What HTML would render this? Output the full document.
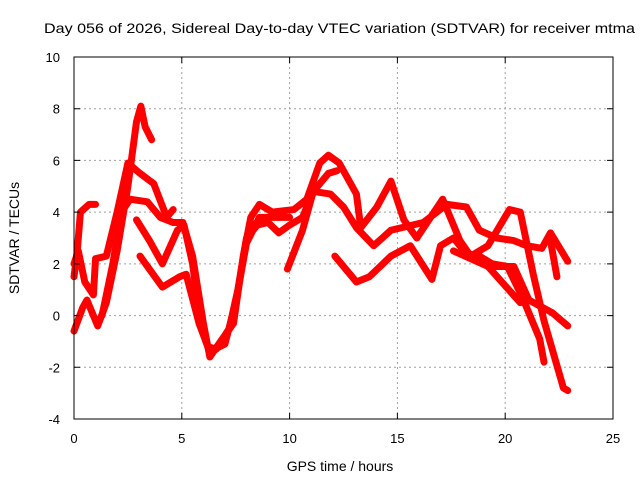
<!DOCTYPE html>
<html><head><meta charset="utf-8"><style>
body{margin:0;background:#fff;}
svg{display:block;font-family:"Liberation Sans",sans-serif;}
</style></head><body>
<svg id="chart" width="640" height="480">
<rect width="640" height="480" fill="#fff"/>
<text x="44" y="33" font-size="14" textLength="591" lengthAdjust="spacingAndGlyphs">Day 056 of 2026, Sidereal Day-to-day VTEC variation (SDTVAR) for receiver mtma</text>
<g id="grid"></g><g id="series"></g><g id="axes"></g>
<text x="340" y="471" text-anchor="middle" font-size="14">GPS time / hours</text>
<text transform="translate(19,238) rotate(-90)" text-anchor="middle" font-size="14">SDTVAR / TECUs</text>
</svg>
<script>
const xTicks=[0,5,10,15,20,25];
const yTicks=[-4,-2,0,2,4,6,8,10];
const s1=[[0,-0.6],[0.4,0.3],[0.6,0.6],[1.1,-0.4],[1.5,0.5],[2.0,2.5],[2.5,5],[2.9,7.5],[3.1,8.1],[3.3,7.3],[3.6,6.8]];
const s2=[[0,1.5],[0.15,2.5],[0.3,4],[0.7,4.3],[1.0,4.3]];
const s3=[[0,2],[0.2,2.5],[0.5,1.3],[0.9,0.8],[1.0,2.2],[1.5,2.3],[2.0,4],[2.5,5.9],[3.06,5.5],[3.7,5.1],[4.3,3.8],[4.6,4.1]];
const s4=[[1.3,0],[1.8,2],[2.2,4],[2.6,4.5],[3.4,4.4],[4.0,3.8],[4.6,3.6],[5.05,3.6],[5.5,2.3],[6.0,-0.3],[6.3,-1.6],[6.8,-1.0],[7.4,-0.3],[7.85,2.3],[8.2,3.8],[8.6,4.3],[9.2,4.0],[10.2,4.1],[10.8,4.5],[11.4,5.9],[11.8,6.2],[12.3,5.9],[13.1,4.7],[13.3,3.4],[14.05,4.2],[14.7,5.2],[15.3,3.7],[15.9,3.0],[17.1,4.5],[17.9,2.9],[18.4,2.3],[19.2,2.7],[20.2,4.1],[20.7,4.0],[21.3,1.6],[21.8,-0.2],[22.7,-2.8],[22.9,-2.9]];
const s5=[[2.9,3.7],[3.5,2.9],[4.1,2.0],[4.8,3.3],[5.1,3.5],[5.5,2.0],[5.9,-0.5],[6.2,-1.2],[6.6,-1.3],[7.2,-0.5],[7.6,1],[8.0,3.0],[8.5,3.5],[9.0,3.6],[9.5,3.2],[10.0,3.5],[10.6,3.8],[11.1,4.8],[11.9,4.7],[12.5,4.2],[13.1,3.4],[13.9,2.7],[14.7,3.3],[16.2,3.6],[17.3,4.3],[18.2,4.2],[18.8,3.3],[19.6,3.0],[20.4,2.9],[21,2.7],[21.7,2.6],[22.1,3.2],[22.9,2.1]];
const s6=[[3.06,2.3],[4.1,1.1],[4.9,1.5],[5.2,1.6],[5.8,-0.3],[6.3,-1.4],[7.0,-1.1],[7.5,0.5],[8.0,2.8],[8.6,3.8],[10.0,3.8]];
const s7=[[9.9,1.8],[10.6,3.3],[11.1,4.8],[11.8,5.5],[12.2,5.6]];
const s8=[[12.1,2.3],[13.1,1.3],[13.7,1.5],[14.7,2.3],[15.6,2.7],[16.6,1.4],[17.0,2.7],[17.6,3.0],[18.2,2.4],[18.8,2.3],[19.4,2.0],[20.1,1.9],[20.8,0.7],[21.6,-0.9],[21.8,-1.8]];
const s9=[[17.6,2.5],[19.2,1.9],[20.7,0.5]];
const s10=[[19.4,1.9],[20.4,1.9],[21.1,0.6],[22.2,0.1],[22.9,-0.4]];
const s11=[[22.1,2.9],[22.4,1.5]];
const allSeries=[s1,s2,s3,s4,s5,s6,s7,s8,s9,s10,s11];

const X0=74,X1=613,Y0=419,Y1=57;
const xs=v=>X0+(v-0)/(25-0)*(X1-X0);
const ys=v=>Y0-(v+4)/(14)*(Y0-Y1);
const NS='http://www.w3.org/2000/svg';
function mk(tag,attrs,parent){const e=document.createElementNS(NS,tag);for(const k in attrs)e.setAttribute(k,attrs[k]);parent.appendChild(e);return e;}
const grid=document.getElementById('grid'),axes=document.getElementById('axes'),ser=document.getElementById('series');
xTicks.forEach(t=>{
 const x=xs(t);
 if(t>0&&t<25){const g=mk('line',{x1:x,x2:x,y1:Y1,y2:Y0,stroke:'#a0a0a0','stroke-dasharray':'2,3','stroke-width':1},grid);
 
 }
 const tk=mk('path',{d:`M${x},${Y0}v-6M${x},${Y1}v6`,stroke:'#000'},axes);
 
 
 const l=mk('text',{x:x,y:Y0+24,'text-anchor':'middle','font-size':13},axes);l.textContent=t;
 
 
});
yTicks.forEach(t=>{
 const y=ys(t);
 if(t>-4&&t<10){const g=mk('line',{x1:X0,x2:X1,y1:y,y2:y,stroke:'#a0a0a0','stroke-dasharray':'2,3','stroke-width':1},grid);
 
 }
 const tk=mk('path',{d:`M${X0},${y}h6M${X1},${y}h-6`,stroke:'#000'},axes);
 
 
 const l=mk('text',{x:X0-14,y:y+5,'text-anchor':'end','font-size':13},axes);l.textContent=t;
 
 
});
const b=mk('rect',{x:X0,y:Y1,width:X1-X0,height:Y0-Y1,fill:'none',stroke:'#000'},axes);


allSeries.forEach((s,i)=>{
 const p=mk('polyline',{points:s.map(d=>xs(d[0])+','+ys(d[1])).join(' '),fill:'none',stroke:'#ff0000','stroke-width':7,'stroke-linejoin':'round','stroke-linecap':'round'},ser);
 
 
});
</script>
</body></html>
